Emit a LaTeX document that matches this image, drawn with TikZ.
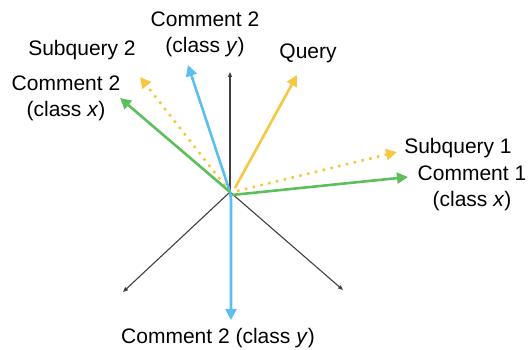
\documentclass[tikz,border=0pt]{standalone}
\usepackage{fontspec}
\setmainfont{Liberation Sans}
\usetikzlibrary{arrows.meta}
\definecolor{cyel}{HTML}{F5C842}
\definecolor{cgrn}{HTML}{5CBF5C}
\definecolor{cblu}{HTML}{5BBDF0}
\begin{document}
\begin{tikzpicture}[x=1pt,y=-1pt,
  axis/.style={draw=black!75,line width=1.1pt,-{Triangle[length=5pt,width=4pt]}},
  vec/.style={line width=2.6pt,-{Triangle[length=11pt,width=11pt]}},
  dotvec/.style={line width=2.6pt,dash pattern=on 2.6pt off 5.4pt,-{Triangle[length=11pt,width=11pt]}},
  lbl/.style={font=\fontsize{21}{26}\selectfont,align=center,inner sep=0pt}]
\useasboundingbox (0,0) rectangle (532,350);
\coordinate (O) at (230,192);
\coordinate (ax1) at (230,72);
\coordinate (ax2) at (123,292);
\coordinate (ax3) at (343,290);
\draw[axis] (O) -- (ax1);
\draw[axis] (O) -- (ax2);
\draw[axis] (O) -- (ax3);
% dotted yellow
\coordinate (s2) at (140,77);
\coordinate (s1) at (397,152);
\draw[dotvec,cyel] (O) -- (s2);
\draw[dotvec,cyel] (237,191) -- (s1);
% query
\coordinate (q) at (297,75);
\draw[vec,cyel] (235,188) -- (q);
% blue
\coordinate (bu) at (188,65);
\coordinate (bd) at (231,320);
\draw[vec,cblu] (O) -- (bu);
\draw[vec,cblu] (O) -- (231,200) -- (bd);
% green
\coordinate (gl) at (120,98);
\coordinate (gr) at (408,177);
\draw[vec,cgrn] (O) -- (gl);
\draw[vec,cgrn] (232,195) -- (gr);
% labels
\node[lbl] (lcy) at (205,34) {Comment 2\\(class \textit{y})};
\node[lbl] (ls2) at (82,50) {Subquery 2};
\node[lbl] (lq) at (308,53) {Query};
\node[lbl] (lcx) at (66,98) {Comment 2\\(class \textit{x})};
\node[lbl] (ls1) at (458,148) {Subquery 1};
\node[lbl] (lc1) at (472,188) {Comment 1\\(class \textit{x})};
\node[lbl] (lb) at (218,338) {Comment 2 (class \textit{y})};
\end{tikzpicture}
\end{document}
